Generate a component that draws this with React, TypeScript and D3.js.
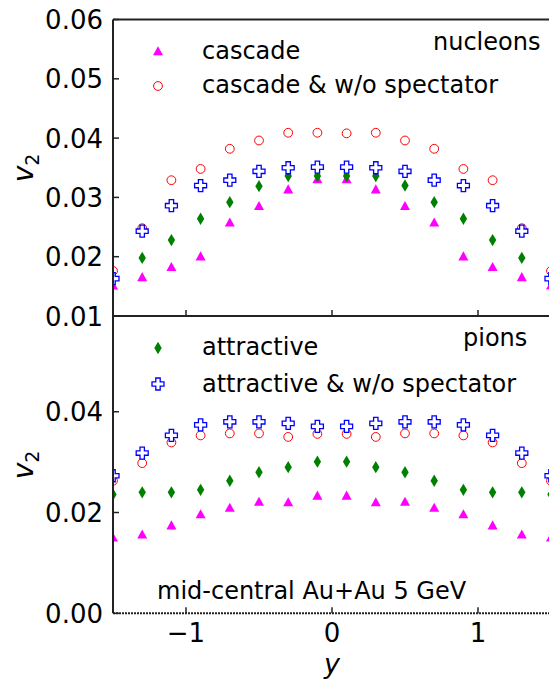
import * as d3 from 'd3';

// rapidity bins
const rapidity = [-1.5, -1.3, -1.1, -0.9, -0.7, -0.5, -0.3, -0.1, 0.1, 0.3, 0.5, 0.7, 0.9, 1.1, 1.3, 1.5];

// nucleons
const nucCascade = [0.0152, 0.0166, 0.0183, 0.0201, 0.0258, 0.0286, 0.0314, 0.0331, 0.0331, 0.0314, 0.0286, 0.0258, 0.0201, 0.0183, 0.0166, 0.0152];
const nucCascadeNoSpec = [0.0176, 0.0248, 0.0329, 0.0348, 0.0382, 0.0396, 0.0409, 0.0409, 0.0408, 0.0409, 0.0396, 0.0382, 0.0348, 0.0329, 0.0248, 0.0176];
const nucAttractive = [0.0164, 0.0198, 0.0228, 0.0264, 0.0292, 0.0319, 0.0336, 0.0336, 0.0336, 0.0336, 0.032, 0.0292, 0.0264, 0.0228, 0.0198, 0.0164];
const nucAttractiveNoSpec = [0.0163, 0.0243, 0.0286, 0.032, 0.0329, 0.0344, 0.035, 0.0351, 0.0351, 0.035, 0.0344, 0.0329, 0.032, 0.0286, 0.0243, 0.0163];

// pions
const pionCascade = [0.0151, 0.0157, 0.0175, 0.0197, 0.021, 0.0222, 0.0221, 0.0234, 0.0234, 0.0221, 0.0222, 0.021, 0.0197, 0.0175, 0.0157, 0.0151];
const pionCascadeNoSpec = [0.0263, 0.0298, 0.0339, 0.0353, 0.0357, 0.0357, 0.035, 0.0356, 0.0356, 0.035, 0.0357, 0.0357, 0.0353, 0.0339, 0.0298, 0.0263];
const pionAttractive = [0.0236, 0.024, 0.024, 0.0245, 0.0263, 0.028, 0.029, 0.0301, 0.0301, 0.029, 0.028, 0.0263, 0.0245, 0.024, 0.024, 0.0236];
const pionAttractiveNoSpec = [0.0273, 0.0318, 0.0353, 0.0374, 0.038, 0.038, 0.0377, 0.0371, 0.0371, 0.0377, 0.038, 0.038, 0.0374, 0.0353, 0.0318, 0.0273];

const xTicks = [-1, 0, 1];
const topTicks = [0.01, 0.02, 0.03, 0.04, 0.05, 0.06];
const bottomTicks = [0.0, 0.02, 0.04];

const FONT = 'DejaVu Sans';
const W = 549;
const H = 684;

const x = d3.scaleLinear().domain([-1.5, 1.5]).range([113, 551]);
const yTop = d3.scaleLinear().domain([0.01, 0.06]).range([316, 19.5]);
const yBot = d3.scaleLinear().domain([0, 0.059]).range([613.3, 316]);

type Kind = 'tri' | 'circ' | 'dia' | 'plus';

const markerPath: Record<Kind, string> = {
  tri: 'M0,-4.8L5,4.3L-5,4.3Z',
  circ: '',
  dia: 'M0,-6.2L3.7,0L0,6.2L-3.7,0Z',
  plus: 'M-2.2,-6H2.2V-2.2H6V2.2H2.2V6H-2.2V2.2H-6V-2.2H-2.2Z',
};

function Marker({ kind, cx, cy }: { kind: Kind; cx: number; cy: number }) {
  if (kind === 'circ') {
    return <circle cx={cx} cy={cy} r={4.4} fill="none" stroke="#ff0000" strokeWidth={1} />;
  }
  if (kind === 'tri') return <path d={markerPath.tri} transform={`translate(${cx},${cy})`} fill="#ff00ff" />;
  if (kind === 'dia') return <path d={markerPath.dia} transform={`translate(${cx},${cy})`} fill="#008000" />;
  return <path d={markerPath.plus} transform={`translate(${cx},${cy})`} fill="white" stroke="#0000ff" strokeWidth={1.3} />;
}

function Panel({ id, y, series }: { id: string; y: d3.ScaleLinear<number, number>; series: [Kind, number[]][] }) {
  const [y0, y1] = y.range();
  return (
    <g>
      <clipPath id={id}>
        <rect x={113} y={y1} width={551 - 113} height={y0 - y1} />
      </clipPath>
      <g clipPath={`url(#${id})`}>
        {series.map(([kind, vals]) => (
          <g key={kind}>
            {vals.map((v, i) => (
              <Marker key={i} kind={kind} cx={x(rapidity[i])} cy={y(v)} />
            ))}
          </g>
        ))}
      </g>
    </g>
  );
}

export default function App() {
  const topSeries: [Kind, number[]][] = [
    ['tri', nucCascade],
    ['dia', nucAttractive],
    ['circ', nucCascadeNoSpec],
    ['plus', nucAttractiveNoSpec],
  ];
  const botSeries: [Kind, number[]][] = [
    ['tri', pionCascade],
    ['dia', pionAttractive],
    ['circ', pionCascadeNoSpec],
    ['plus', pionAttractiveNoSpec],
  ];
  const left = 113;
  const right = 551;
  return (
    <div style={{ position: 'absolute', left: 0, top: 0 }}>
      <svg width={W} height={H} style={{ display: 'block', background: 'white' }} fontFamily={FONT}>
        <Panel id="clipTop" y={yTop} series={topSeries} />
        <Panel id="clipBot" y={yBot} series={botSeries} />

        {/* spines */}
        <line x1={left} x2={right} y1={yTop(0.06)} y2={yTop(0.06)} stroke="#222" strokeWidth={2} />
        <line x1={left} x2={right} y1={316} y2={316} stroke="#222" strokeWidth={2} />
        <line x1={left} x2={left} y1={yTop(0.06)} y2={yBot(0)} stroke="#222" strokeWidth={2} />
        <line x1={left} x2={right} y1={yBot(0)} y2={yBot(0)} stroke="#222" strokeWidth={2} strokeDasharray="2,1" />

        {/* x ticks, inward */}
        {xTicks.map((t) => (
          <g key={t}>
            <line x1={x(t)} x2={x(t)} y1={316} y2={310} stroke="#222" strokeWidth={1.5} />
            <line x1={x(t)} x2={x(t)} y1={yBot(0)} y2={yBot(0) - 6} stroke="#222" strokeWidth={1.5} />
            <text x={x(t)} y={642} textAnchor="middle" fontSize={26}>
              {t < 0 ? `\u2212${Math.abs(t)}` : t}
            </text>
          </g>
        ))}

        {/* y ticks */}
        {topTicks.map((t) => (
          <g key={`t${t}`}>
            <line x1={left} x2={left + 6} y1={yTop(t)} y2={yTop(t)} stroke="#222" strokeWidth={1.5} />
            <text x={103} y={yTop(t) + 9.5} textAnchor="end" fontSize={26}>
              {t.toFixed(2)}
            </text>
          </g>
        ))}
        {bottomTicks.map((t) => (
          <g key={`b${t}`}>
            <line x1={left} x2={left + 6} y1={yBot(t)} y2={yBot(t)} stroke="#222" strokeWidth={1.5} />
            <text x={103} y={yBot(t) + 9.5} textAnchor="end" fontSize={26}>
              {t.toFixed(2)}
            </text>
          </g>
        ))}

        {/* axis labels */}
        <text x={332} y={673} textAnchor="middle" fontSize={27} fontStyle="italic">y</text>
        {[168, 465].map((cy) => (
          <text key={cy} transform={`translate(33,${cy}) rotate(-90)`} textAnchor="middle" fontSize={28} fontStyle="italic">
            v<tspan fontSize={19} fontStyle="normal" dy={6}>2</tspan>
          </text>
        ))}

        {/* legends */}
        <Marker kind="tri" cx={158} cy={51} />
        <text x={202} y={59} fontSize={24}>cascade</text>
        <Marker kind="circ" cx={158} cy={86} />
        <text x={202} y={93} fontSize={24}>cascade &amp; w/o spectator</text>
        <text x={433} y={50} fontSize={24}>nucleons</text>

        <Marker kind="dia" cx={158} cy={348} />
        <text x={202} y={355} fontSize={24}>attractive</text>
        <Marker kind="plus" cx={158} cy={384} />
        <text x={202} y={392} fontSize={24}>attractive &amp; w/o spectator</text>
        <text x={463} y={346} fontSize={24}>pions</text>

        <text x={157} y={599} fontSize={24}>mid-central Au+Au 5 GeV</text>
      </svg>
    </div>
  );
}
